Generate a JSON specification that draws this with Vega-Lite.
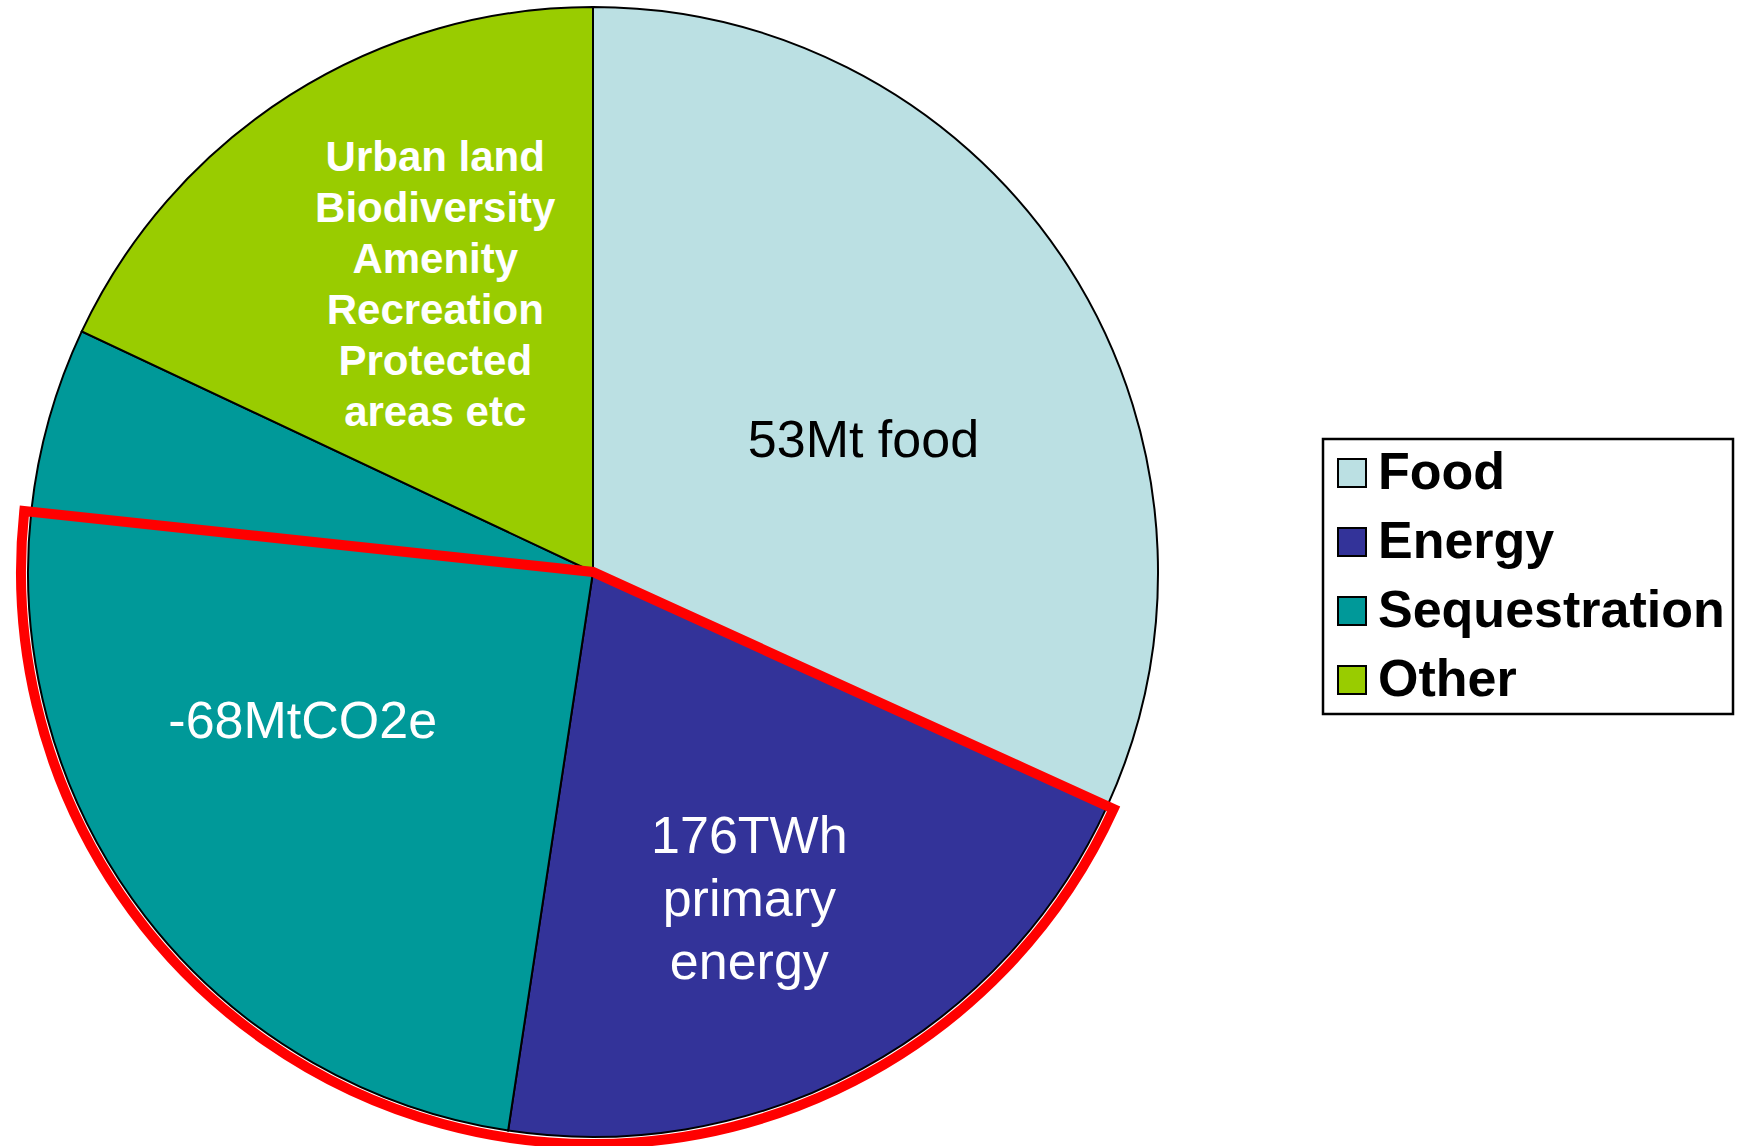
{
  "$schema": "https://vega.github.io/schema/vega-lite/v6.json",
  "width": 1186,
  "height": 1144,
  "autosize": {"type": "pad"},
  "padding": 0,
  "background": "white",
  "config": {"view": {"stroke": null}, "font": "Liberation Sans"},
  "datasets": {
    "slices": [
      {"idx": 1, "category": "Food", "part": "Food", "value": 31.8, "label": "53Mt food"},
      {"idx": 2, "category": "Energy", "part": "Energy", "value": 20.6, "label": "176TWh\nprimary\nenergy"},
      {"idx": 3, "category": "Sequestration", "part": "Sequestration (outlined)", "value": 24.3, "label": "-68MtCO2e"},
      {"idx": 4, "category": "Sequestration", "part": "Sequestration (rest)", "value": 5.3, "label": ""},
      {"idx": 5, "category": "Other", "part": "Other", "value": 18.0, "label": "Urban land\nBiodiversity\nAmenity\nRecreation\nProtected\nareas etc"}
    ],
    "outline": [
      {"idx": 1, "part": "Food", "value": 31.8},
      {"idx": 2, "part": "Outlined", "value": 44.9},
      {"idx": 3, "part": "Rest", "value": 23.3}
    ]
  },
  "layer": [
    {
      "data": {"name": "slices"},
      "mark": {"type": "arc", "radius": 565, "stroke": "black", "strokeWidth": 2},
      "encoding": {
        "theta": {"field": "value", "type": "quantitative", "stack": true},
        "order": {"field": "idx", "type": "quantitative"},
        "color": {
          "field": "category",
          "type": "nominal",
          "scale": {
            "domain": ["Food", "Energy", "Sequestration", "Other"],
            "range": ["#BBE0E3", "#333399", "#009999", "#99CC00"]
          },
          "legend": {
            "orient": "none",
            "legendX": 1323,
            "legendY": 439,
            "title": null,
            "strokeColor": "black",
            "fillColor": "white",
            "padding": 8,
            "symbolType": "square",
            "symbolSize": 784,
            "symbolOffset": -5,
            "symbolStrokeColor": "black",
            "symbolStrokeWidth": 2,
            "symbolOpacity": 1,
            "labelFont": "Liberation Sans",
            "labelFontWeight": "bold",
            "labelFontSize": 52,
            "labelColor": "black",
            "labelLimit": 0,
            "labelOffset": 0,
            "rowPadding": 17,
            "encode": {"legend": {"update": {"strokeWidth": {"value": 2.5}}}}
          }
        }
      }
    },
    {
      "data": {"name": "outline"},
      "mark": {"type": "arc", "radius": 572, "stroke": "red", "strokeWidth": 10, "fill": "white", "fillOpacity": 0, "strokeJoin": "miter"},
      "encoding": {
        "theta": {"field": "value", "type": "quantitative", "stack": true},
        "order": {"field": "idx", "type": "quantitative"},
        "strokeOpacity": {"condition": {"test": "datum.part === 'Outlined'", "value": 1}, "value": 0}
      }
    },
    {
      "data": {"name": "slices"},
      "mark": {"type": "text", "radius": 299, "dx": 19, "dy": 31, "fontSize": 52, "font": "Liberation Sans", "color": "black", "align": "center", "baseline": "middle", "lineBreak": "\n"},
      "encoding": {
        "theta": {"field": "value", "type": "quantitative", "stack": true},
        "order": {"field": "idx", "type": "quantitative"},
        "text": {"condition": {"test": "datum.part === 'Food'", "field": "label"}, "value": ""}
      }
    },
    {
      "data": {"name": "slices"},
      "mark": {"type": "text", "radius": 364, "dx": -17, "dy": -55, "fontSize": 52, "lineHeight": 63, "font": "Liberation Sans", "color": "white", "align": "center", "baseline": "middle", "lineBreak": "\n"},
      "encoding": {
        "theta": {"field": "value", "type": "quantitative", "stack": true},
        "order": {"field": "idx", "type": "quantitative"},
        "text": {"condition": {"test": "datum.part === 'Energy'", "field": "label"}, "value": ""}
      }
    },
    {
      "data": {"name": "slices"},
      "mark": {"type": "text", "radius": 321, "dx": -36, "dy": -46, "fontSize": 52, "font": "Liberation Sans", "color": "white", "align": "center", "baseline": "middle", "lineBreak": "\n"},
      "encoding": {
        "theta": {"field": "value", "type": "quantitative", "stack": true},
        "order": {"field": "idx", "type": "quantitative"},
        "text": {"condition": {"test": "datum.part === 'Sequestration (outlined)'", "field": "label"}, "value": ""}
      }
    },
    {
      "data": {"name": "slices"},
      "mark": {"type": "text", "radius": 328, "dx": 18, "dy": -137, "fontSize": 42, "fontWeight": "bold", "lineHeight": 51, "font": "Liberation Sans", "color": "white", "align": "center", "baseline": "middle", "lineBreak": "\n"},
      "encoding": {
        "theta": {"field": "value", "type": "quantitative", "stack": true},
        "order": {"field": "idx", "type": "quantitative"},
        "text": {"condition": {"test": "datum.part === 'Other'", "field": "label"}, "value": ""}
      }
    }
  ]
}
